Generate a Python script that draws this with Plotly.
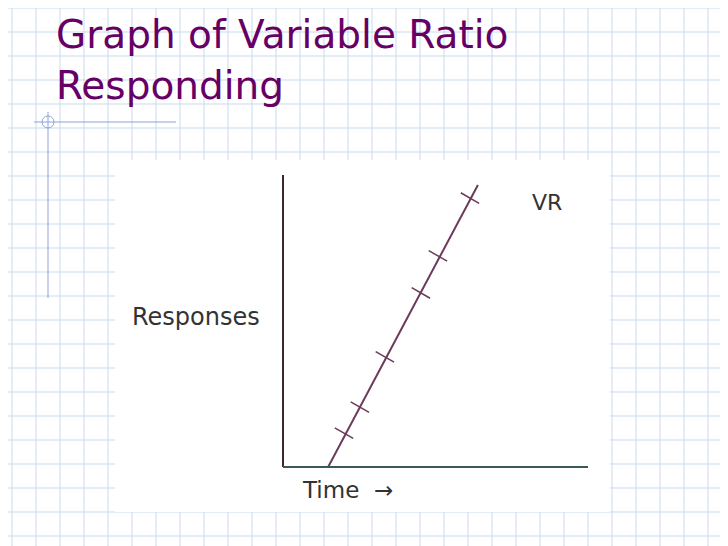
import plotly.graph_objects as go

# data (arbitrary units: time 0-10, responses 0-100)
line_time = [1.48, 6.39]
line_resp = [0.0, 96.6]
mark_time = [2.0, 2.52, 3.34, 4.52, 5.08, 6.13]
mark_resp = [11.6, 20.5, 37.7, 59.6, 72.3, 92.1]

W, H = 728, 546
OFF = 8  # page body margin
L, R, T, B = 283, 588, 175, 467
def px(x): return (x - L) / (R - L)
def py(y): return (B - y) / (B - T)

fig = go.Figure()
fig.add_trace(go.Scatter(x=line_time, y=line_resp, mode="lines",
                         line=dict(color="#6b3a5a", width=2), hoverinfo="skip"))
fig.add_trace(go.Scatter(x=mark_time, y=mark_resp, mode="markers",
                         marker=dict(symbol="line-nw", size=15, angle=-15,
                                     line=dict(color="#6b3a5a", width=1.5)), hoverinfo="skip"))

shapes = []
grid = "#c9d9ec"
for gx in range(12, W + 20, 24):
    shapes.append(dict(type="line", xref="paper", yref="paper", x0=px(gx), x1=px(gx),
                       y0=py(-10), y1=py(H + 10), line=dict(color=grid, width=1), layer="below"))
for gy in range(8, H + 20, 24):
    shapes.append(dict(type="line", xref="paper", yref="paper", x0=px(-10), x1=px(W + 10),
                       y0=py(gy), y1=py(gy), line=dict(color=grid, width=1), layer="below"))
shapes.append(dict(type="rect", xref="paper", yref="paper", x0=px(115), x1=px(610),
                   y0=py(160), y1=py(512), fillcolor="white", line=dict(width=0), layer="below"))
deco = "#8fa3d6"
shapes.append(dict(type="line", xref="paper", yref="paper", x0=px(48), x1=px(48),
                   y0=py(112), y1=py(298), line=dict(color=deco, width=1)))
shapes.append(dict(type="line", xref="paper", yref="paper", x0=px(34), x1=px(176),
                   y0=py(122), y1=py(122), line=dict(color=deco, width=1)))
shapes.append(dict(type="circle", xref="paper", yref="paper", x0=px(42), x1=px(54),
                   y0=py(116), y1=py(128), line=dict(color=deco, width=1)))
shapes.append(dict(type="line", xref="paper", yref="paper", x0=0, x1=0, y0=0, y1=py(175),
                   line=dict(color="#3a2a30", width=2)))
shapes.append(dict(type="line", xref="paper", yref="paper", x0=0, x1=1, y0=0, y1=0,
                   line=dict(color="#3a5a58", width=2)))

hand = "Comic Sans MS, DejaVu Sans"
ann = [
    dict(text="Graph of Variable Ratio<br>Responding", x=px(54), y=py(10), xanchor="left",
         yanchor="top", align="left", font=dict(family="DejaVu Sans", size=39, color="#660066")),
    dict(text="Responses", x=px(130), y=py(317), xanchor="left", yanchor="middle",
         font=dict(family=hand, size=24, color="#333")),
    dict(text="Time  →", x=px(300), y=py(490), xanchor="left", yanchor="middle",
         font=dict(family=hand, size=23, color="#333")),
    dict(text="VR", x=px(530), y=py(202), xanchor="left", yanchor="middle",
         font=dict(family=hand, size=22, color="#333")),
]
for a in ann:
    a.update(xref="paper", yref="paper", showarrow=False)

fig.update_layout(width=W, height=H,
                  margin=dict(l=L - OFF, r=W - R + OFF, t=T - OFF, b=H - B + OFF),
                  paper_bgcolor="white", plot_bgcolor="rgba(0,0,0,0)", showlegend=False,
                  shapes=shapes, annotations=ann,
                  xaxis=dict(range=[0, 10], visible=False, fixedrange=True),
                  yaxis=dict(range=[0, 100], visible=False, fixedrange=True))
fig.write_html("out.html", config={"displayModeBar": False})
